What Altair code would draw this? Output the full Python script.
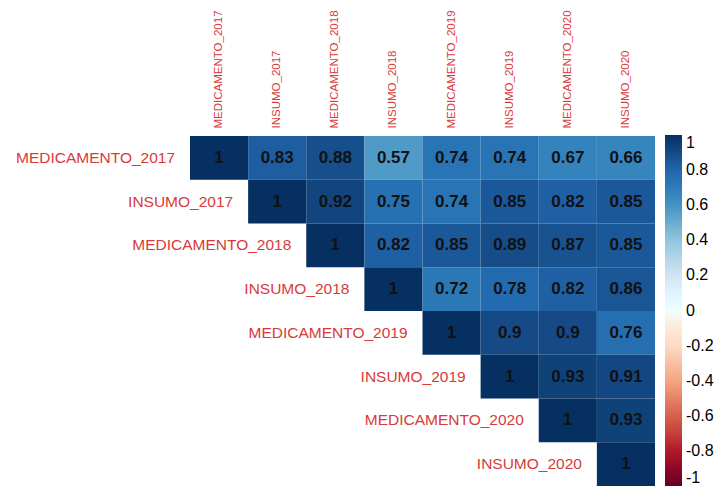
import altair as alt
import pandas as pd

names = ["MEDICAMENTO_2017", "INSUMO_2017", "MEDICAMENTO_2018", "INSUMO_2018",
         "MEDICAMENTO_2019", "INSUMO_2019", "MEDICAMENTO_2020", "INSUMO_2020"]

# upper triangle rows (row i starts at column i)
r0 = [1, 0.83, 0.88, 0.57, 0.74, 0.74, 0.67, 0.66]
r1 = [1, 0.92, 0.75, 0.74, 0.85, 0.82, 0.85]
r2 = [1, 0.82, 0.85, 0.89, 0.87, 0.85]
r3 = [1, 0.72, 0.78, 0.82, 0.86]
r4 = [1, 0.9, 0.9, 0.76]
r5 = [1, 0.93, 0.91]
r6 = [1, 0.93]
r7 = [1]
rows_vals = [r0, r1, r2, r3, r4, r5, r6, r7]

legend_ticks = [1, 0.8, 0.6, 0.4, 0.2, 0, -0.2, -0.4, -0.6, -0.8, -1]
pal_domain = [-1, -0.8, -0.6, -0.4, -0.2, 0, 0.2, 0.4, 0.6, 0.8, 1]
pal_colors = ["#67001F", "#B2182B", "#D6604D", "#F4A582", "#FDDBC7", "#FFFFFF",
              "#D1E5F0", "#92C5DE", "#4393C3", "#2166AC", "#053061"]

recs = []
for i, vals in enumerate(rows_vals):
    for k, v in enumerate(vals):
        recs.append({"row": names[i], "col": names[i + k], "value": v})
df = pd.DataFrame(recs)
lab_df = pd.DataFrame({"name": names})

label_red = "#d83a3a"

xscale = alt.Scale(domain=names, paddingInner=0, paddingOuter=0)
yscale = alt.Scale(domain=names, paddingInner=0, paddingOuter=0)

base = alt.Chart(df)

cells = base.mark_rect(stroke=None).encode(
    x=alt.X("col:N", scale=xscale,
            axis=alt.Axis(orient="top", labelAngle=-90, labelColor=label_red,
                          labelFontSize=11.5, labelFont="Liberation Sans",
                          ticks=False, domain=False, labelPadding=8, title=None)),
    y=alt.Y("row:N", scale=yscale, axis=None),
    color=alt.Color("value:Q",
                    scale=alt.Scale(domain=pal_domain, range=pal_colors, type="linear"),
                    legend=alt.Legend(orient="none", legendX=475, legendY=-1,
                                      direction="vertical", gradientLength=351,
                                      gradientThickness=17, title=None,
                                      values=legend_ticks,
                                      labelExpr="'' + datum.value",
                                      labelFontSize=16, labelFont="Liberation Sans",
                                      labelColor="black", labelOffset=4,
                                      labelBaseline="middle",
                                      gradientStrokeWidth=0)),
)

nums = base.mark_text(font="Liberation Sans", fontWeight="bold", fontSize=17,
                      color="#111111").encode(
    x=alt.X("col:N", scale=xscale),
    y=alt.Y("row:N", scale=yscale),
    text=alt.Text("value:Q", format=".2~f"),
)

row_labels = alt.Chart(lab_df).mark_text(
    align="right", baseline="middle", dx=-44, font="Liberation Sans",
    fontSize=15.5, color=label_red).encode(
    x=alt.X("name:N", scale=xscale),
    y=alt.Y("name:N", scale=yscale),
    text="name:N",
)

chart = alt.layer(cells, nums, row_labels).properties(
    width=465, height=350,
    padding={"left": 190, "top": 136, "right": 66, "bottom": 5},
    autosize=alt.AutoSizeParams(type="none"),
).configure_view(stroke=None)

chart.save("out.html", embed_options={"renderer": "svg", "actions": False})
